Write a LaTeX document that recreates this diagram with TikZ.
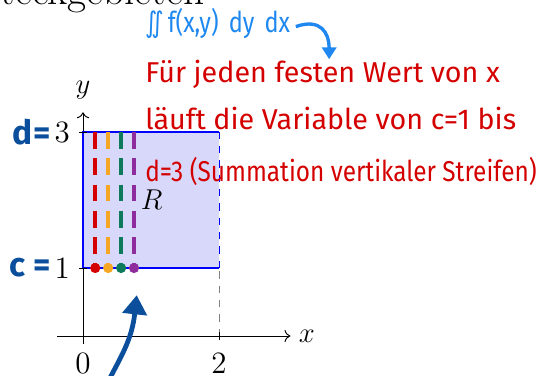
\documentclass[tikz,border=0pt]{standalone}
\usepackage{fontspec}
\newfontfamily\hand{Fira Sans}
\newfontfamily\symfont{DejaVu Sans}
\usetikzlibrary{arrows.meta}
\definecolor{hblue}{HTML}{0B4F9C}
\definecolor{lblue}{HTML}{1E88F0}
\definecolor{hred}{HTML}{D40000}
\definecolor{sorange}{HTML}{F5A623}
\definecolor{sgreen}{HTML}{0E7A5C}
\definecolor{spurple}{HTML}{8E2C9E}
\definecolor{rfill}{HTML}{D8D8FA}
\tikzset{
  mlabel/.style={font=\fontsize{13}{15}\selectfont},
  redtxt/.style={hred, font=\hand\fontsize{12}{14}\selectfont, anchor=base west, inner sep=0pt},
  bluelbl/.style={hblue, font=\hand\bfseries\fontsize{14}{16}\selectfont, anchor=east, inner sep=0pt},
  strip/.style={line width=1.6pt, dash pattern=on 7pt off 4pt},
}
\begin{document}
\begin{tikzpicture}
\useasboundingbox (-1.2206,-0.588) rectangle (6.7206,4.941);
\clip (-1.2206,-0.588) rectangle (6.7206,4.941);
% title (cut off)
\node[font=\LARGE, anchor=base east, inner sep=0pt] (title) at (1.79,4.868) {Rechteckgebieten};
% axes
\coordinate (xs) at (-0.38,0);
\coordinate (xe) at (3.05,0);
\coordinate (ys) at (0,-0.12);
\coordinate (ye) at (0,3.29);
\draw[->] (xs) -- (xe) node[right, mlabel] (xl) {$x$};
\draw[->] (ys) -- (ye);
\node[mlabel, anchor=south] (yl) at (0,3.36) {$y$};
% rectangle
\coordinate (A) at (0,1);
\coordinate (B) at (2,1);
\coordinate (C) at (2,3);
\coordinate (D) at (0,3);
\coordinate (B0) at (2,0);
\fill[rfill] (A) rectangle (C);
\draw[gray, dashed, thin] (B0) -- (B);
\draw[blue, dashed, thin] (B) -- (C);
\draw[blue, line width=1.2pt] (C) -- (D) -- (A) -- (B);
% ticks
\draw (-0.06,1) -- (0.06,1);
\draw (-0.06,3) -- (0.06,3);
\draw (0,-0.06) -- (0,0.06);
\draw (2,-0.06) -- (2,0.06);
% strips
\foreach \x/\c in {0.18/hred, 0.37/sorange, 0.56/sgreen, 0.75/spurple}{
  \draw[\c, strip] (\x,3) -- (\x,1);
  \fill[\c] (\x,1) circle (0.075);
}
\node[mlabel] (R) at (1.01,2.0) {$R$};
% tick labels
\node[mlabel, anchor=east] (l3) at (-0.07,3) {3};
\node[mlabel, anchor=east] (l1) at (-0.07,1) {1};
\node[mlabel, anchor=north] (l0) at (0,-0.12) {0};
\node[mlabel, anchor=north] (l2) at (2,-0.12) {2};
% handwritten blue labels
\node[bluelbl] (dl) at ([xshift=2pt]l3.west) {d=};
\node[bluelbl] (cl) at ([xshift=2pt]l1.west) {c =};
% blue integral
\node[lblue, font=\hand\fontsize{12}{14}\selectfont, anchor=base west, inner sep=0pt, xscale=0.82, transform shape] (integ) at (0.91,4.456) {{\symfont ∬}\,f(x,y) \,dy\, dx};
\coordinate (ia) at (3.13,4.55);
\coordinate (ib) at (3.62,4.07);
\draw[lblue, line width=1.4pt, -{Triangle[length=5pt,width=6pt]}] (ia) .. controls (3.5,4.68) and (3.62,4.45) .. (ib);
% red text
\node[redtxt] (r1) at (0.91,3.735) {Für jeden festen Wert von x};
\node[redtxt] (r2) at (0.91,3.03) {läuft die Variable von c=1 bis};
\node[redtxt, xscale=0.85, transform shape] (r3) at (0.91,2.265) {d=3 (Summation vertikaler Streifen)};
% bottom arrow
\coordinate (ba) at (0.38,-0.65);
\coordinate (bb) at (0.79,0.6);
\draw[hblue, line width=2pt, -{Triangle[length=8pt,width=10pt]}] (ba) .. controls (0.56,-0.3) and (0.72,-0.05) .. (bb);
\end{tikzpicture}
\end{document}
